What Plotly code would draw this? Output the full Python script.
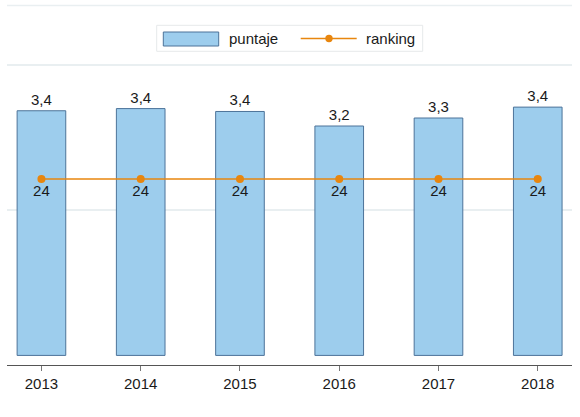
import plotly.graph_objects as go

years = [2013, 2014, 2015, 2016, 2017, 2018]
puntaje = [3.37, 3.40, 3.36, 3.16, 3.27, 3.42]
ranking = [24, 24, 24, 24, 24, 24]

FONT = "Liberation Sans, Arial, sans-serif"
BAR_FILL = "#9DCDED"
BAR_LINE = "#4D7399"
ORANGE = "#E8860E"
GRID = "#E9EFF1"

# plot area in pixels: x 7..572, y 60..365
W, H = 580, 417
L, R, T, B = 7, 8, 60, 52
pw, ph = W - L - R, H - T - B


def px(x):
    return (x - L) / pw


def py(y):
    return (H - B - y) / ph


fig = go.Figure()

fig.add_trace(go.Bar(
    x=years, y=puntaje, width=0.49,
    marker=dict(color=BAR_FILL, line=dict(color=BAR_LINE, width=1)),
    text=[f"{v:.1f}".replace(".", ",") for v in puntaje],
    textposition="outside", cliponaxis=False,
    textfont=dict(size=15, color="#1a1a1a", family=FONT),
    name="puntaje", showlegend=False,
))

fig.add_trace(go.Scatter(
    x=years, y=ranking, yaxis="y2", mode="lines+markers+text",
    line=dict(color=ORANGE, width=1.5),
    marker=dict(color=ORANGE, size=8),
    text=[str(v) for v in ranking], textposition="bottom center",
    textfont=dict(size=15, color="#1a1a1a", family=FONT),
    name="ranking", showlegend=False,
))

# legend drawn by hand (wide Stata-style keys)
shapes = [
    dict(type="rect", xref="paper", yref="paper", x0=px(156.7), x1=px(422.7),
         y0=py(51.3), y1=py(25.3), line=dict(color="#E6E9EA", width=1), fillcolor="white"),
    dict(type="rect", xref="paper", yref="paper", x0=px(163.3), x1=px(218.7),
         y0=py(46), y1=py(32), line=dict(color=BAR_LINE, width=1), fillcolor=BAR_FILL),
    dict(type="line", xref="paper", yref="paper", x0=px(300.7), x1=px(356.7),
         y0=py(38.5), y1=py(38.5), line=dict(color=ORANGE, width=1.5)),
    dict(type="circle", xref="paper", yref="paper", x0=px(325.3), x1=px(332.7),
         y0=py(42.2), y1=py(34.8), line=dict(color=ORANGE, width=0), fillcolor=ORANGE),
    dict(type="line", xref="paper", yref="paper", x0=0, x1=1,
         y0=py(5.5), y1=py(5.5), line=dict(color=GRID, width=1.5)),
]
annotations = [
    dict(text="puntaje", xref="paper", yref="paper", x=px(227), y=py(39),
         xanchor="left", yanchor="middle", showarrow=False,
         font=dict(size=15, color="#1a1a1a", family=FONT)),
    dict(text="ranking", xref="paper", yref="paper", x=px(364), y=py(39),
         xanchor="left", yanchor="middle", showarrow=False,
         font=dict(size=15, color="#1a1a1a", family=FONT)),
]

fig.update_layout(
    width=W, height=H,
    margin=dict(l=L, r=R, t=T, b=B, pad=0),
    paper_bgcolor="white", plot_bgcolor="white",
    showlegend=False,
    font=dict(family=FONT, size=15, color="#1a1a1a"),
    xaxis=dict(
        range=[2012.653, 2018.345], tickvals=years, ticktext=[str(y) for y in years],
        showline=True, linecolor="#555555", linewidth=1,
        ticks="outside", ticklen=5, tickcolor="#777777",
        showgrid=False, zeroline=False,
        tickfont=dict(size=15, color="#1a1a1a", family=FONT),
    ),
    yaxis=dict(
        range=[-0.132, -0.132 + ph / 72.6], tickvals=[2, 4], showticklabels=False,
        showgrid=True, gridcolor=GRID, gridwidth=1.5, zeroline=False, showline=False,
    ),
    yaxis2=dict(
        range=[0, 24 * ph / (365 - 179)], overlaying="y", side="right",
        showgrid=False, showticklabels=False, zeroline=False, showline=False,
    ),
    shapes=shapes, annotations=annotations,
)

# page body margin would push the 580x417 figure off the window
fig.write_html("out.html", config={"displayModeBar": False},
               post_script="document.body.style.margin='0';")
